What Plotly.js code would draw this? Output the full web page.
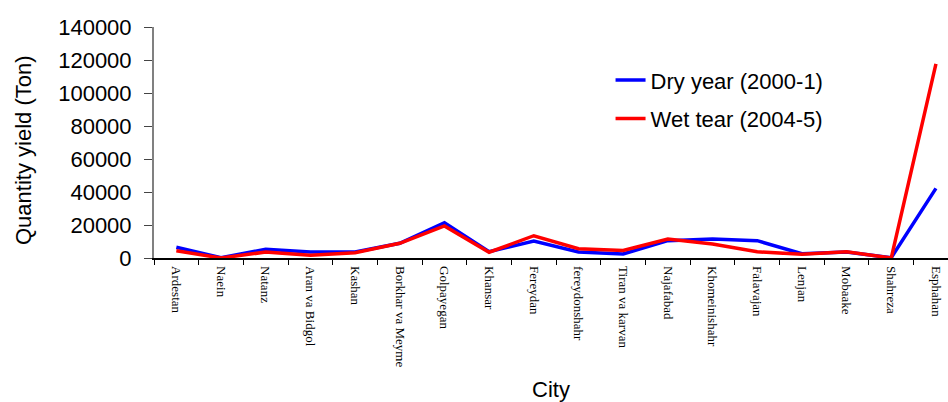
<!DOCTYPE html>
<html>
<head>
<meta charset="utf-8">
<script src="https://cdn.plot.ly/plotly-3.0.1.min.js"></script>
<style>html,body{margin:0;padding:0;background:#fff;}#chart{width:948px;height:402px;}</style>
</head>
<body>
<div id="chart"></div>
<script>
const cities = ["Ardestan","Naein","Natanz","Aran va Bidgol","Kashan","Borkhar va Meyme","Golpayegan","Khansar","Fereydan","fereydonshahr","Tiran va karvan","Najafabad","Khomeinishahr","Falavajan","Lenjan","Mobaake","Shahreza","Esphahan"];
const dryYear = [6500, 200, 5300, 3600, 3600, 8900, 21400, 3800, 10300, 3600, 2400, 10500, 11500, 10500, 2600, 3600, 200, 42200];
const wetYear = [4400, 0, 3600, 1600, 3200, 8900, 19400, 3500, 13500, 5600, 4600, 11500, 8500, 3800, 2200, 3800, 0, 117600];
const yTicks = [0, 20000, 40000, 60000, 80000, 100000, 120000, 140000];

const traces = [
  {x: cities, y: dryYear, type: 'scatter', mode: 'lines', name: 'Dry year (2000-1)',
   line: {color: '#0000FF', width: 3.5}, legendgroup: 'a'},
  {x: cities, y: wetYear, type: 'scatter', mode: 'lines', name: 'Wet tear (2004-5)',
   line: {color: '#FF0000', width: 3.5}, legendgroup: 'b'}
];

const sans = 'Liberation Sans, Arial, sans-serif';
const layout = {
  width: 948, height: 402,
  margin: {l: 154, r: 0, t: 27, b: 144},
  paper_bgcolor: '#fff', plot_bgcolor: '#fff',
  font: {family: sans, color: '#000'},
  showlegend: true,
  legend: {x: 0.575, y: 0.861, xanchor: 'left', yanchor: 'top',
    font: {family: sans, size: 22, color: '#000'},
    traceorder: 'grouped', tracegroupgap: 7, bgcolor: 'rgba(0,0,0,0)'},
  xaxis: {
    type: 'category', range: [-0.5, 17.27], tickson: 'boundaries',
    showgrid: false, zeroline: false, showline: true, linecolor: '#000', linewidth: 1.5,
    ticks: 'outside', ticklen: 5, tickcolor: '#000', tickwidth: 1,
    ticklabelstandoff: 4,
    tickangle: 90, tickfont: {family: 'Liberation Serif, Times New Roman, serif', size: 13, color: '#000'},
    title: {text: 'City', font: {family: sans, size: 22, color: '#000'}, standoff: 22},
    fixedrange: true
  },
  yaxis: {
    range: [0, 140000], tickvals: yTicks, ticktext: yTicks.map(String),
    showgrid: false, zeroline: false, showline: true, linecolor: '#808080', linewidth: 2,
    ticks: 'outside', ticklen: 8, tickcolor: '#444', tickwidth: 1,
    ticklabelstandoff: 8,
    tickfont: {family: sans, size: 22, color: '#000'},
    fixedrange: true
  },
  annotations: [{
    text: 'Quantity yield (Ton)', textangle: -90, showarrow: false,
    xref: 'paper', yref: 'paper', x: -0.165, y: 0.4675, xanchor: 'center', yanchor: 'middle',
    font: {family: sans, size: 22, color: '#000'}
  }]
};

Plotly.newPlot('chart', traces, layout, {displayModeBar: false, staticPlot: true});
</script>
</body>
</html>
